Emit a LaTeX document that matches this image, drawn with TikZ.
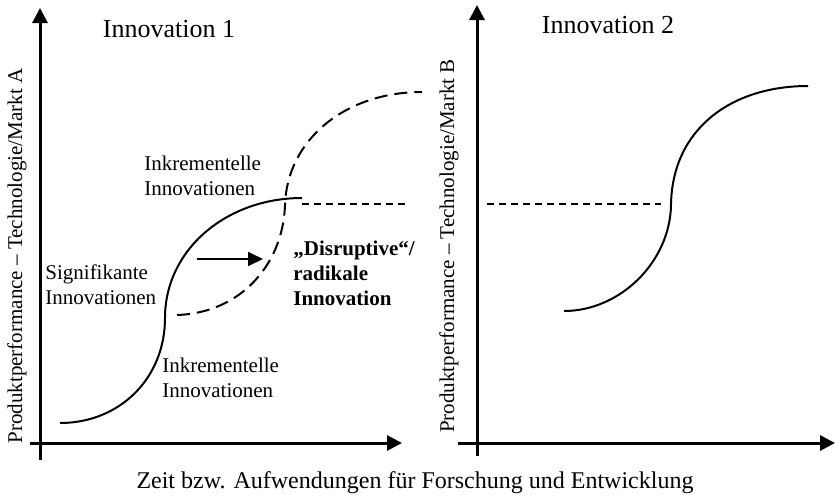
\documentclass[tikz,border=0pt]{standalone}
\usepackage{fontspec}
\setmainfont{Liberation Serif}
\usetikzlibrary{arrows.meta}
\begin{document}
\begin{tikzpicture}[x=0.5pt,y=-0.5pt,
  axis/.style={line width=1.5pt,-{Triangle[length=7.5pt,width=7.5pt]}},
  curve/.style={line width=1pt},
  dcurve/.style={line width=1pt,dash pattern=on 6.5pt off 3.5pt},
  dline/.style={line width=0.8pt,dash pattern=on 3.5pt off 2.5pt},
  lbl/.style={font=\fontsize{10.5}{12.5}\selectfont,align=left,inner sep=0pt},
  blbl/.style={lbl,font=\fontsize{10.5}{12.5}\selectfont\bfseries},
  title/.style={font=\fontsize{13}{15}\selectfont,inner sep=0pt},
  captext/.style={font=\fontsize{12}{14}\selectfont,inner sep=0pt},
  ylbl/.style={lbl,rotate=90,align=center},
  marrow/.style={line width=0.9pt,-{Triangle[length=7.5pt,width=7pt]}}
]
\useasboundingbox (0,0) rectangle (835,499);
% left panel axes
\coordinate (A0) at (40,460);
\coordinate (Atop) at (40,8);
\coordinate (Ax0) at (30,443);
\coordinate (Axr) at (402,443);
\draw[axis] (A0) -- (Atop);
\draw[axis] (Ax0) -- (Axr);
% right panel axes
\coordinate (B0) at (477,456);
\coordinate (Btop) at (477,5);
\coordinate (Bx0) at (458,443);
\coordinate (Bxr) at (835,443);
\draw[axis] (B0) -- (Btop);
\draw[axis] (Bx0) -- (Bxr);
% left curves
\coordinate (s0) at (60,423);
\coordinate (s1) at (165,318);
\coordinate (s2) at (302,198);
\draw[curve] (s0) .. controls (120,423) and (165,378) .. (s1)
                  .. controls (165,250) and (226,198) .. (s2);
\coordinate (d0) at (177,315);
\coordinate (d1) at (285,205);
\coordinate (d2) at (422,92);
\draw[dcurve] (d0) .. controls (240,313) and (283,265) .. (d1)
                   .. controls (287,140) and (345,92) .. (d2);
\coordinate (h0) at (302,204);
\coordinate (h1) at (408,204);
\draw[dline] (h0) -- (h1);
\coordinate (m0) at (197,259);
\coordinate (m1) at (263,259);
\draw[marrow] (m0) -- (m1);
% right curves
\coordinate (r0) at (564,311);
\coordinate (r1) at (671,205);
\coordinate (r2) at (808,86);
\draw[curve] (r0) .. controls (620,311) and (670,262) .. (r1)
                  .. controls (672,130) and (730,86) .. (r2);
\coordinate (k0) at (487,204);
\coordinate (k1) at (661,204);
\draw[dline] (k0) -- (k1);
% texts
\node[title,anchor=base] (t1) at (169,37) {Innovation 1};
\node[title,anchor=base] (t2) at (608,33) {Innovation 2};
\node[lbl,anchor=north west] (inc1) at (144,156) {Inkrementelle\\Innovationen};
\node[lbl,anchor=north west] (sig) at (45,264) {Signifikante\\Innovationen};
\node[lbl,anchor=north west] (inc2) at (162,358) {Inkrementelle\\Innovationen};
\node[blbl,anchor=north west] (dis) at (293,241) {„Disruptive“/\\radikale\\Innovation};
\node[ylbl] (ya) at (17,256) {Produktperformance – Technologie/Markt A};
\node[ylbl] (yb) at (449,246) {Produktperformance – Technologie/Markt B};
\node[captext,anchor=base] (xc) at (415,488) {Zeit bzw. Aufwendungen für Forschung und Entwicklung};
\end{tikzpicture}
\end{document}
